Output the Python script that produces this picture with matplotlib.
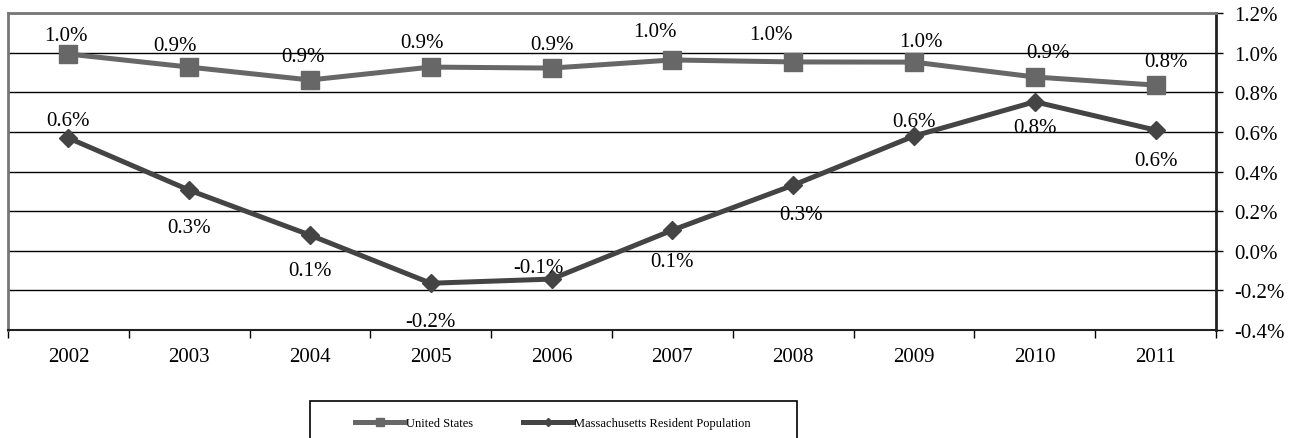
import numpy as np
import matplotlib.pyplot as plt
from matplotlib.patches import Rectangle

plt.rcParams['font.family'] = ['Liberation Serif', 'DejaVu Serif']

# ================== DATA ==================
years = ['2002', '2003', '2004', '2005', '2006', '2007', '2008', '2009', '2010', '2011']
us_growth = [0.993, 0.927, 0.862, 0.927, 0.922, 0.963, 0.953, 0.952, 0.877, 0.836]
ma_growth = [0.569, 0.306, 0.079, -0.164, -0.143, 0.104, 0.331, 0.579, 0.752, 0.609]
y_ticks = [-0.4, -0.2, 0.0, 0.2, 0.4, 0.6, 0.8, 1.0, 1.2]

# data label offsets from each point, in pixels (dx right, dy down)
us_lab_dx = [-2, -14, -7, -9, 0, -17, -22, 7, 13, 10]
us_lab_dy = [-22, -25, -26, -28, -27, -31, -30, -24, -27, -27]
ma_lab_dx = [0, 0, 0, 0, -13, 0, 8, 0, 0, 0]
ma_lab_dy = [-21, 34, 32, 35, -15, 28, 26, -18, 23, 27]
text_nudge = 3   # centre of the text box sits a little above the digits

us_color = '#676767'
ma_color = '#444444'
fs = 15

# ================== FIGURE ==================
fig = plt.figure(figsize=(12.98, 4.39), dpi=100)
ax = fig.add_axes([8/1298, 1 - 331/439, (1216-8)/1298, (331-14)/439])

x = np.arange(len(years))
ax.plot(x, us_growth, color=us_color, lw=3.6, marker='s', ms=13, zorder=3,
        label='United States')
ax.plot(x, ma_growth, color=ma_color, lw=3.6, marker='D', ms=9.5, zorder=3,
        label='Massachusetts Resident Population')

# data labels
for i, v in enumerate(us_growth):
    ax.annotate(f'{v:.1f}%', (x[i], v),
                xytext=(us_lab_dx[i], -us_lab_dy[i] - text_nudge),
                textcoords='offset pixels', ha='center', va='center', fontsize=fs)
for i, v in enumerate(ma_growth):
    ax.annotate(f'{v:.1f}%', (x[i], v),
                xytext=(ma_lab_dx[i], -ma_lab_dy[i] - text_nudge),
                textcoords='offset pixels', ha='center', va='center', fontsize=fs)

# axes
ax.set_xlim(-0.5, len(years) - 0.5)
ax.set_ylim(-0.4, 1.2)
ax.yaxis.tick_right()
ax.set_yticks(y_ticks)
ax.set_yticklabels([f'{t:.1f}%' for t in y_ticks], fontsize=fs)
ax.grid(axis='y', color='black', lw=1)
ax.set_axisbelow(True)

ax.set_xticks(x)
ax.set_xticklabels(years, fontsize=fs)
ax.tick_params(axis='x', which='major', length=0, pad=12)
ax.set_xticks(np.arange(-0.5, len(years) + 0.5, 1), minor=True)
ax.tick_params(axis='x', which='minor', length=6, width=1, color='black')
ax.tick_params(axis='y', length=5, width=1, color='black', pad=8)

for side in ['left', 'top']:
    ax.spines[side].set_color('#777777')
    ax.spines[side].set_linewidth(2)
ax.spines['right'].set_color('#222222')
ax.spines['right'].set_linewidth(2)
ax.spines['bottom'].set_color('#222222')
ax.spines['bottom'].set_linewidth(1.5)

# legend box (runs past the bottom edge, as in the original)
fig.patches.append(Rectangle((310/1298, -0.05), 487/1298, 0.05 + 1 - 402/439,
                             transform=fig.transFigure, fill=False,
                             edgecolor='black', lw=1.2))
fig.legend(loc='center', bbox_to_anchor=(553/1298, 1 - 424/439), ncol=2,
           frameon=False, fontsize=9, handlelength=4, columnspacing=4,
           handletextpad=0.1, markerscale=0.45)

fig.savefig('out.png', dpi=100)
